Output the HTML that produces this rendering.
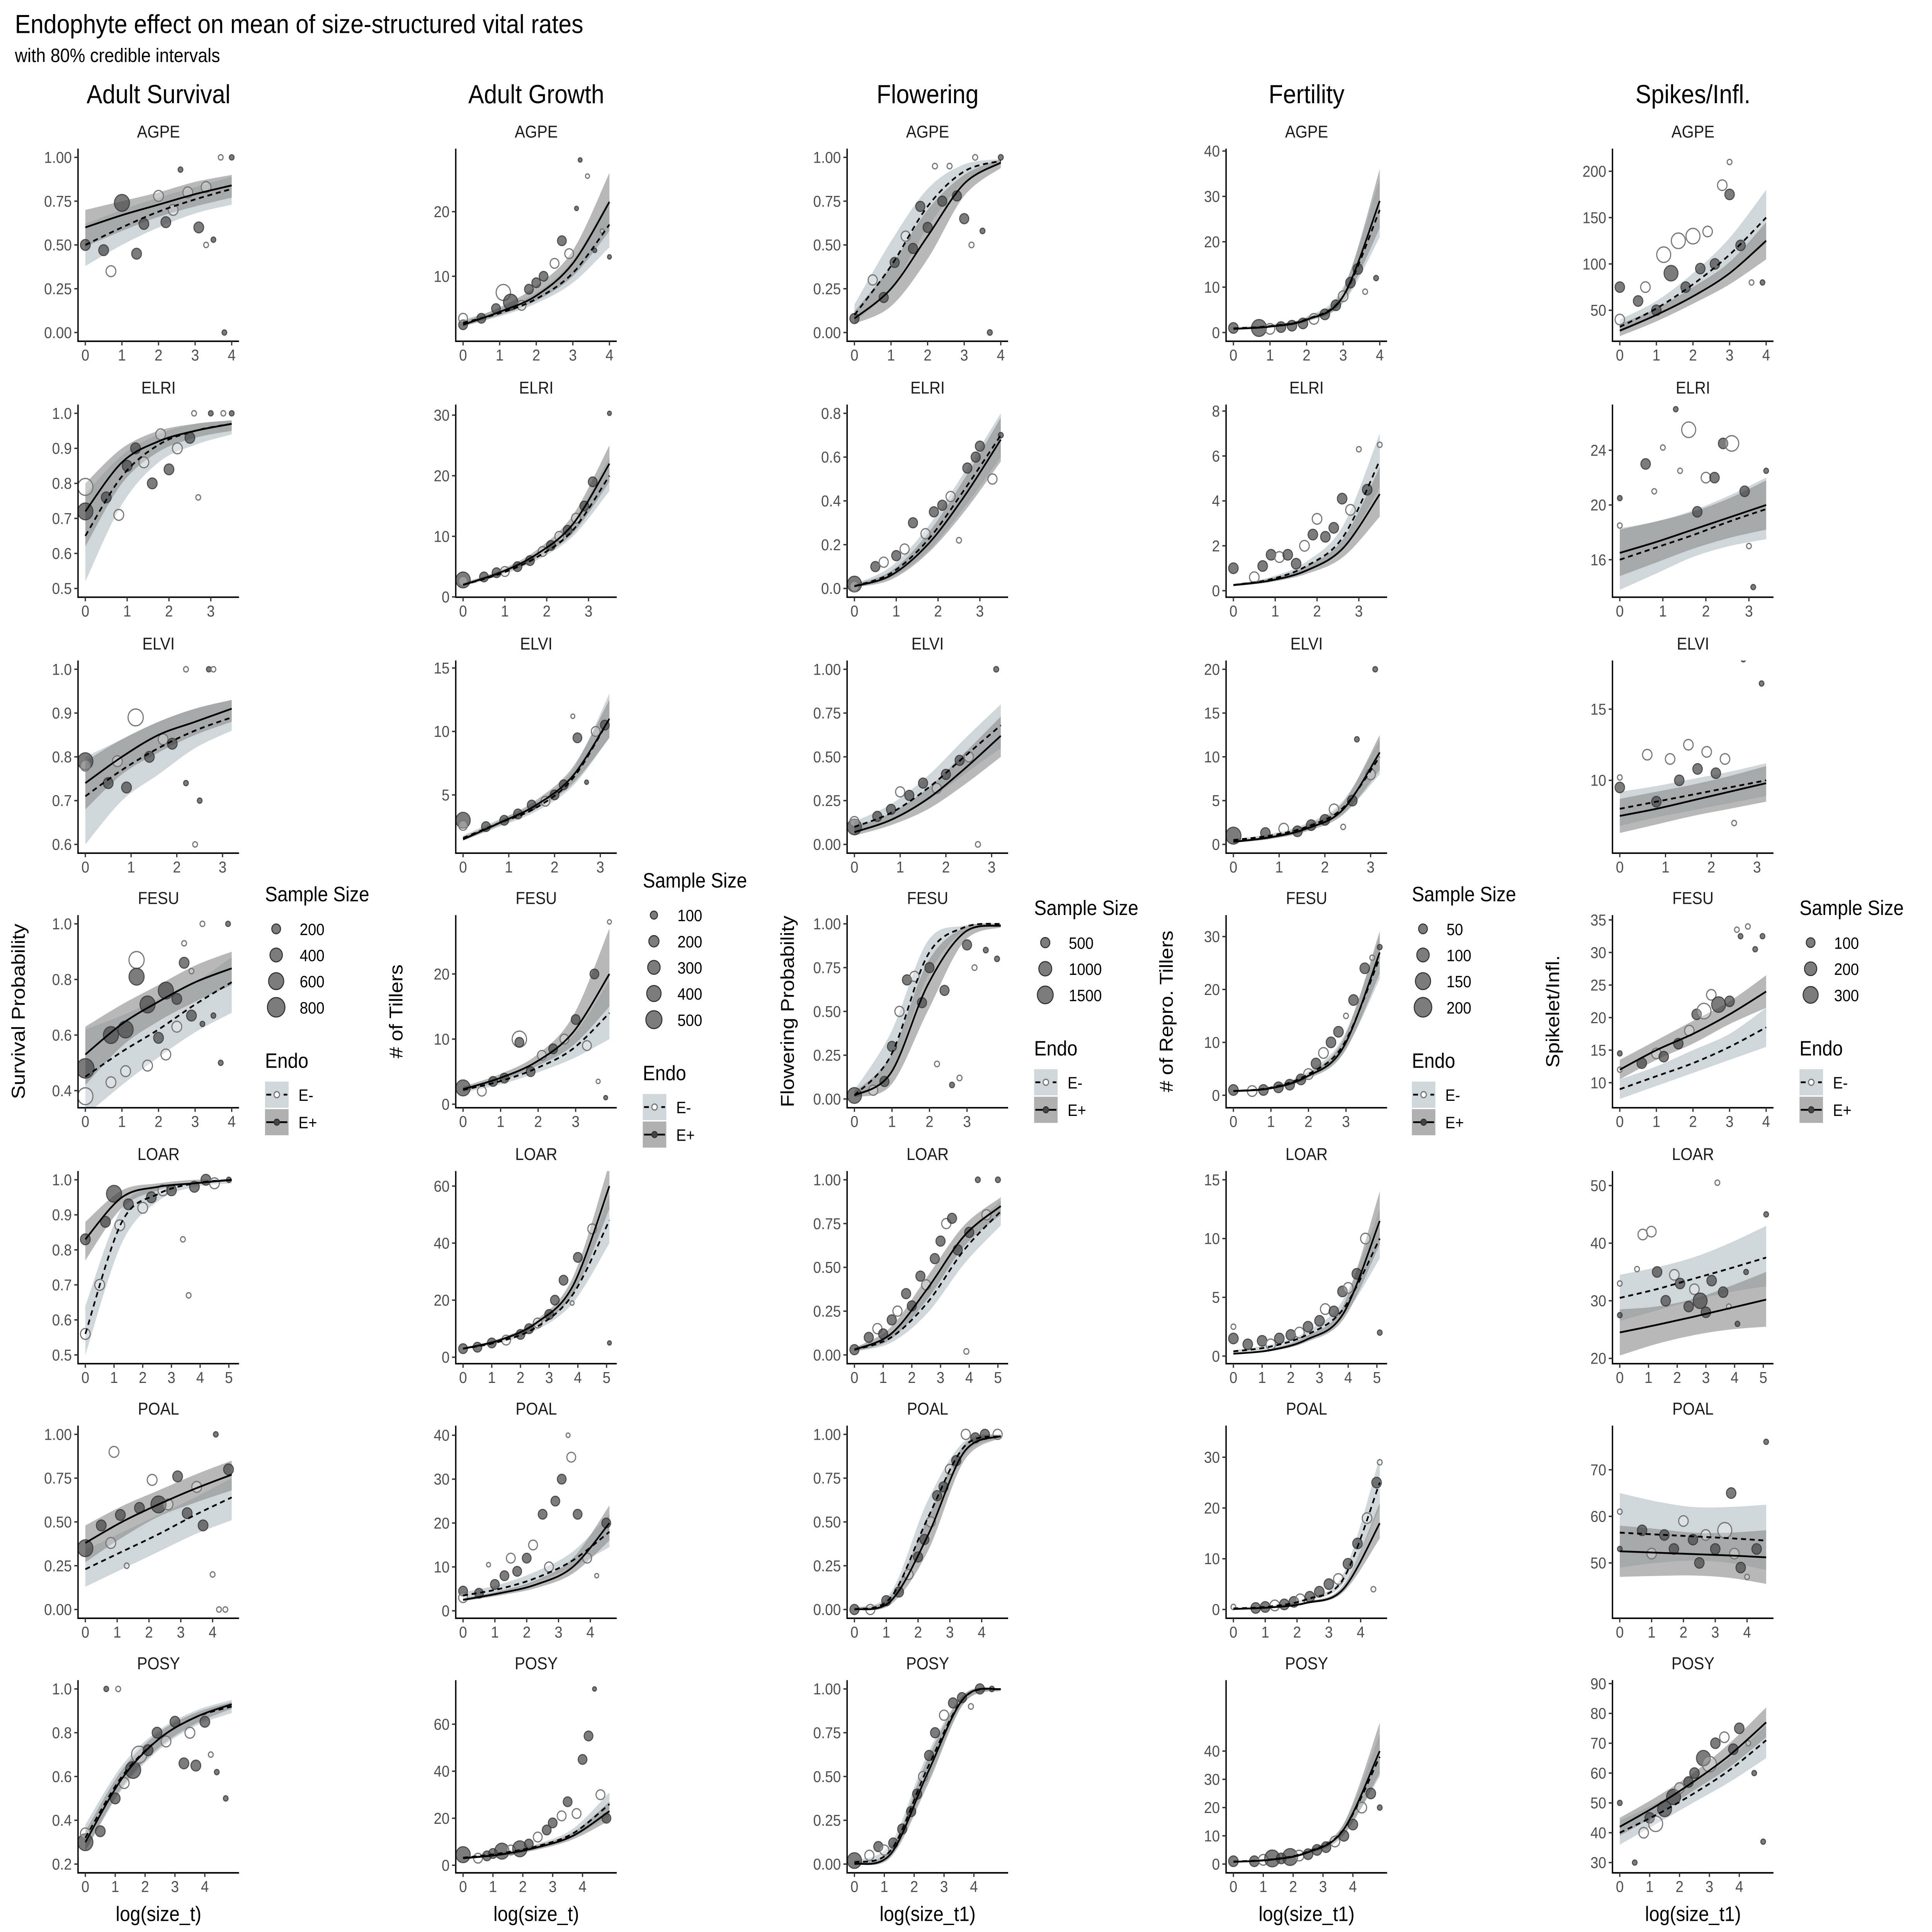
<!DOCTYPE html>
<html><head><meta charset="utf-8"><title>Endophyte effect on vital rates</title>
<style>
html,body{margin:0;padding:0;background:#fff;overflow:hidden;width:100vw;height:100vh;}
svg{display:block;width:100vw;height:100vh;}
text{font-family:"Liberation Sans",Arial,sans-serif;}
</style></head>
<body>
<svg id="chart" xmlns="http://www.w3.org/2000/svg" viewBox="0 0 1560 1404" preserveAspectRatio="none">
<rect x="0" y="0" width="1560" height="1404" fill="#fff"/>
<text x="12" y="24" font-size="19" fill="#000">Endophyte effect on mean of size-structured vital rates</text>
<text x="12" y="45" font-size="14" fill="#000">with 80% credible intervals</text>
<g id="plots"></g>
</svg>
<script>
const species = ["AGPE","ELRI","ELVI","FESU","LOAR","POAL","POSY"];
const columnTitles = ["Adult Survival","Adult Growth","Flowering","Fertility","Spikes/Infl."];
const yAxisTitles = ["Survival Probability","# of Tillers","Flowering Probability","# of Repro. Tillers","Spikelet/Infl."];
const xAxisTitles = ["log(size_t)","log(size_t)","log(size_t1)","log(size_t1)","log(size_t1)"];

// x maxima per column/row
const xMax = [
 [4,3.5,3.2,4,5.1,4.6,4.9],
 [4,3.5,3.2,3.9,5.1,4.6,4.9],
 [4,3.5,3.2,3.9,5.1,4.6,4.9],
 [4,3.5,3.2,3.9,5.1,4.6,4.9],
 [4,3.4,3.2,4,5.1,4.6,4.9]
];
// raw y data ranges per column/row
const yRange = [
 [[0,1],[0.5,1],[0.6,1],[0.37,1],[0.5,1],[0,1],[0.2,1]],
 [[1.3,28.4],[1.4,30.3],[1.1,14.9],[0.8,27.7],[0.8,62.2],[0.3,40.2],[0.5,75]],
 [[0,1],[0,0.8],[0,1],[0,1],[0,1],[0,1],[0,1]],
 [[0,38.6],[0.1,7.9],[0,20],[-0.7,32.4],[0.1,15],[0,34.5],[0,62]],
 [[26,215],[13.9,26.7],[5.5,17.8],[7.5,34.4],[20.6,51],[40,77.6],[29.5,88.2]]
];
// y tick values
const yTicks = [
 [[0,0.25,0.5,0.75,1],[0.5,0.6,0.7,0.8,0.9,1],[0.6,0.7,0.8,0.9,1],[0.4,0.6,0.8,1],[0.5,0.6,0.7,0.8,0.9,1],[0,0.25,0.5,0.75,1],[0.2,0.4,0.6,0.8,1]],
 [[10,20],[0,10,20,30],[5,10,15],[0,10,20],[0,20,40,60],[0,10,20,30,40],[0,20,40,60]],
 [[0,0.25,0.5,0.75,1],[0,0.2,0.4,0.6,0.8],[0,0.25,0.5,0.75,1],[0,0.25,0.5,0.75,1],[0,0.25,0.5,0.75,1],[0,0.25,0.5,0.75,1],[0,0.25,0.5,0.75,1]],
 [[0,10,20,30,40],[0,2,4,6,8],[0,5,10,15,20],[0,10,20,30],[0,5,10,15],[0,10,20,30],[0,10,20,30,40]],
 [[50,100,150,200],[16,20,24],[10,15],[10,15,20,25,30,35],[20,30,40,50],[50,60,70],[30,40,50,60,70,80,90]]
];
// y tick labels
const yTickLabels = [
 [["0.00","0.25","0.50","0.75","1.00"],["0.5","0.6","0.7","0.8","0.9","1.0"],["0.6","0.7","0.8","0.9","1.0"],["0.4","0.6","0.8","1.0"],["0.5","0.6","0.7","0.8","0.9","1.0"],["0.00","0.25","0.50","0.75","1.00"],["0.2","0.4","0.6","0.8","1.0"]],
 [["10","20"],["0","10","20","30"],["5","10","15"],["0","10","20"],["0","20","40","60"],["0","10","20","30","40"],["0","20","40","60"]],
 [["0.00","0.25","0.50","0.75","1.00"],["0.0","0.2","0.4","0.6","0.8"],["0.00","0.25","0.50","0.75","1.00"],["0.00","0.25","0.50","0.75","1.00"],["0.00","0.25","0.50","0.75","1.00"],["0.00","0.25","0.50","0.75","1.00"],["0.00","0.25","0.50","0.75","1.00"]],
 [["0","10","20","30","40"],["0","2","4","6","8"],["0","5","10","15","20"],["0","10","20","30"],["0","5","10","15"],["0","10","20","30"],["0","10","20","30","40"]],
 [["50","100","150","200"],["16","20","24"],["10","15"],["10","15","20","25","30","35"],["20","30","40","50"],["50","60","70"],["30","40","50","60","70","80","90"]]
];

// Fitted curves: values at x = 0, xmax/4, xmax/2, 3xmax/4, xmax
const epMean = [
 [[.60,.67,.73,.79,.84],[.72,.86,.92,.95,.97],[.74,.80,.85,.88,.91],[.53,.64,.72,.79,.84],[.83,.95,.98,.99,1.0],[.38,.50,.60,.69,.77],[.30,.59,.77,.87,.93]],
 [[2.5,4.5,7,12,21.5],[2,4,7,12,22],[1.5,2.8,4.2,6.5,11],[2.3,4,6.5,11,20],[3,6,12,25,60],[2.5,4,6,10,20],[3,4.5,7.5,12.5,23]],
 [[.08,.25,.55,.85,.97],[.01,.06,.2,.42,.68],[.07,.14,.26,.43,.62],[.02,.15,.65,.95,.99],[.03,.12,.38,.68,.85],[0,.05,.42,.9,.99],[0,.06,.52,.95,1]],
 [[.8,1.3,2.8,8,29],[.25,.45,.9,1.9,4.3],[.3,.8,1.8,4,10.5],[.8,1.3,3.5,9,27],[.2,.5,1.4,3.6,11.5],[.1,.4,1.3,4,17],[.8,1.5,4,12,40]],
 [[28,45,65,90,125],[16.5,17.3,18.2,19.1,20],[7.5,8,8.6,9.2,9.8],[12,15,17.5,20.5,24],[24.5,25.8,27.2,28.7,30.2],[52.5,52.2,51.9,51.6,51.2],[42,49,57,66,77]]
];
const epLow = [
 [[.49,.58,.66,.72,.77],[.62,.80,.89,.93,.95],[.68,.76,.81,.85,.88],[.42,.56,.65,.72,.78],[.77,.92,.97,.99,.995],[.27,.41,.53,.61,.68],[.26,.55,.73,.84,.91]],
 [[2.2,4,6.2,10,17],[1.8,3.7,6.4,10.5,19],[1.4,2.6,3.9,5.9,9.5],[2,3.5,5.8,9,15],[2.7,5.5,11,22,52],[2.2,3.5,5.2,8.5,16],[2.5,4,6.5,11,19]],
 [[.05,.15,.42,.78,.94],[.005,.04,.16,.35,.58],[.05,.11,.2,.34,.5],[.01,.08,.5,.9,.98],[.02,.09,.32,.62,.8],[0,.03,.33,.85,.98],[0,.04,.45,.92,.99]],
 [[.6,1.1,2.4,6.8,23],[.2,.38,.75,1.5,3.3],[.2,.6,1.5,3.4,8.5],[.6,1.1,3,7.8,23],[.15,.4,1.2,3.1,9.5],[.08,.3,1.1,3.4,14],[.6,1.2,3.5,10,32]],
 [[22,38,57,78,105],[14.8,15.8,16.8,17.6,18.2],[6.3,6.9,7.5,8,8.5],[10.5,13.5,16,19,21.5],[20.5,22.5,24,25,25.5],[47,47.2,47.3,46.8,45.5],[39,46,54,62,72]]
];
const epHigh = [
 [[.70,.75,.80,.86,.90],[.80,.90,.95,.97,.98],[.79,.84,.88,.91,.93],[.63,.71,.78,.85,.90],[.88,.97,.99,1,1],[.48,.59,.68,.77,.85],[.35,.63,.80,.89,.94]],
 [[3,5.2,8.5,14,26],[2.3,4.4,7.7,13.5,25],[1.7,3.0,4.6,7.2,12.5],[2.7,4.6,7.5,13.5,27],[3.3,6.6,13,28,68],[2.8,4.5,7,12,24],[3.5,5,8.5,14,27]],
 [[.12,.38,.70,.9,.99],[.02,.08,.25,.5,.78],[.1,.18,.32,.52,.73],[.04,.25,.78,.98,1],[.04,.16,.45,.74,.9],[.01,.08,.52,.94,1],[.01,.09,.6,.97,1]],
 [[1,1.6,3.3,9.5,36],[.3,.55,1.1,2.3,5.5],[.4,1,2.2,4.8,12.5],[1,1.5,4,10.5,31],[.25,.6,1.7,4.3,14],[.12,.5,1.6,4.8,21],[1,1.8,4.7,14,50]],
 [[35,52,75,102,145],[18.2,18.8,19.5,20.5,21.8],[8.7,9.2,9.7,10.3,11],[13.5,16.5,19.5,22.5,26.5],[28.5,29,30.3,32.5,35],[58,57.3,56.5,56.5,57],[45,52,60,70,82]]
];
const emMean = [
 [[.50,.60,.69,.76,.82],[.65,.82,.91,.95,.97],[.71,.77,.82,.86,.89],[.45,.54,.62,.71,.79],[.56,.88,.96,.99,1.0],[.23,.33,.43,.54,.64],[.32,.60,.77,.87,.92]],
 [[2.8,4.3,6.5,10.5,18],[2,3.8,6.5,11,20],[1.6,2.8,4,6.3,11],[2.2,3.5,5.5,8.5,14],[3,5.5,10.5,22,48],[3.5,5,7.5,11.5,18],[3.2,5,8,13.5,26]],
 [[.10,.38,.72,.92,.98],[.01,.07,.22,.45,.7],[.1,.18,.32,.5,.68],[.02,.25,.82,.98,1],[.03,.1,.3,.6,.82],[0,.07,.52,.93,.99],[.01,.08,.55,.95,1]],
 [[.9,1.4,2.9,8,27],[.25,.5,1.1,2.4,5.8],[.5,1,2,4.2,10],[.8,1.4,3.8,9.5,26],[.4,.8,1.8,4,10],[.2,.6,2,6,25],[.9,1.6,4.2,12,38]],
 [[32,52,78,110,150],[16,16.9,17.8,18.8,19.7],[8,8.5,9,9.5,10],[9,11,13,15.5,18.5],[30.5,32,33.8,35.6,37.5],[56.5,56.1,55.7,55.3,54.8],[40,46,53,61,71]]
];
const emLow = [
 [[.38,.50,.60,.68,.73],[.52,.74,.86,.91,.94],[.60,.70,.76,.82,.86],[.31,.42,.52,.61,.68],[.5,.82,.94,.98,.99],[.13,.23,.33,.43,.51],[.26,.54,.72,.83,.89]],
 [[2.4,3.8,5.8,9,14.5],[1.8,3.5,6,10,17.5],[1.4,2.5,3.7,5.7,9.5],[1.8,3,4.8,7,10],[2.6,5,9.5,19,40],[2.8,4.2,6.5,10,14.5],[2.8,4.5,7,12,21]],
 [[.06,.25,.6,.86,.96],[.005,.05,.17,.37,.6],[.07,.14,.25,.4,.55],[.01,.15,.7,.96,.99],[.02,.07,.24,.52,.74],[0,.04,.42,.88,.98],[0,.05,.47,.92,.99]],
 [[.6,1.1,2.4,6.5,21],[.2,.4,.9,1.9,4.6],[.4,.8,1.7,3.5,8],[.6,1.2,3.2,8,22],[.3,.6,1.5,3.4,8.3],[.15,.5,1.7,5.1,20],[.7,1.3,3.6,10.5,31]],
 [[26,44,66,92,122],[13.8,15,16.2,17,17.5],[6.8,7.4,7.9,8.4,8.9],[7.5,9.5,11.5,13.5,15.5],[26.5,28.3,30,31.5,32.5],[49,50,50.5,50,48.5],[36,43,50,57,65]]
];
const emHigh = [
 [[.62,.70,.77,.83,.89],[.77,.88,.94,.97,.98],[.80,.84,.88,.91,.93],[.62,.67,.73,.79,.88],[.64,.92,.98,.99,1],[.34,.44,.54,.64,.75],[.38,.65,.81,.90,.95]],
 [[3.3,5,7.5,12.5,22],[2.3,4.2,7,12.5,23],[1.8,3.1,4.4,7,13],[2.6,4,6.5,10.5,19],[3.4,6,11.5,25,57],[4.2,6,9,13.5,22],[3.6,5.5,9,15.5,31]],
 [[.16,.52,.82,.96,.99],[.02,.1,.28,.53,.8],[.13,.23,.39,.6,.8],[.05,.38,.9,.99,1],[.04,.13,.37,.68,.88],[.01,.1,.62,.96,1],[.02,.12,.63,.97,1]],
 [[1.2,1.8,3.5,10,34],[.3,.6,1.3,2.9,7],[.6,1.2,2.4,5,12],[1,1.7,4.4,11,30],[.5,1,2.1,4.8,12.5],[.25,.7,2.3,7,30],[1.1,1.9,4.8,14,46]],
 [[40,60,90,128,180],[18.3,18.8,19.6,20.7,22],[9.2,9.6,10.1,10.6,11.2],[10.5,12.5,15,17.5,21.5],[34.5,35.8,37.5,40,43],[65,63.2,62,62,62.5],[44,50,57,65,76]]
];

// Observed points: [x, y, endo (0=E-,1=E+), size class (1 small, 2 medium, 3 large)]
const pointsSurv = [
 [[0,.5,1,2],[0.5,.47,1,2],[0.7,.35,0,2],[1.0,.74,1,3],[1.4,.45,1,2],[1.6,.62,1,2],[2,.78,0,2],[2.2,.63,1,2],[2.4,.7,0,2],[2.6,.93,1,1],[2.8,.8,0,2],[3.1,.6,1,2],[3.3,.5,0,1],[3.5,.53,1,1],[3.7,1.0,0,1],[3.8,0,1,1],[4,1,1,1],[3.3,.83,0,2]],
 [[0,.79,0,3],[0,.72,1,3],[0.5,.76,1,2],[0.8,.71,0,2],[1,.85,1,2],[1.2,.9,1,2],[1.4,.86,0,2],[1.6,.8,1,2],[1.8,.94,0,2],[2,.84,1,2],[2.2,.9,0,2],[2.5,.93,1,2],[2.7,.76,0,1],[2.6,1,0,1],[3,1,1,1],[3.3,1,0,1],[3.5,1,1,1]],
 [[0,.79,1,3],[0,.78,0,2],[0.5,.74,1,2],[0.7,.79,0,2],[0.9,.73,1,2],[1.1,.89,0,3],[1.4,.8,1,2],[1.7,.84,0,2],[1.9,.83,1,2],[2.2,1,0,1],[2.2,.74,1,1],[2.4,.6,0,1],[2.5,.7,1,1],[2.7,1,1,1],[2.8,1,0,1]],
 [[0,.48,1,4],[0,.38,0,3],[0.7,.43,0,2],[0.7,.6,1,3],[1.1,.47,0,2],[1.1,.62,1,3],[1.4,.87,0,3],[1.4,.81,1,3],[1.7,.71,1,3],[1.7,.49,0,2],[2,.59,1,2],[2.2,.53,0,2],[2.2,.76,1,3],[2.5,.73,1,2],[2.5,.63,0,2],[2.7,.86,1,2],[2.7,.93,0,1],[2.9,.83,0,1],[2.9,.67,1,2],[3.2,.64,1,1],[3.2,1,0,1],[3.5,.67,1,1],[3.7,.5,1,1],[3.9,1,1,1]],
 [[0,.83,1,2],[0,.56,0,2],[0.5,.7,0,2],[0.7,.88,1,2],[1,.96,1,3],[1.2,.87,0,2],[1.5,.93,1,2],[2,.92,0,2],[2.3,.95,1,2],[2.7,.97,0,2],[3,.97,1,2],[3.4,.83,0,1],[3.6,.67,0,1],[3.8,.98,1,2],[4.2,1,1,2],[4.5,.99,0,2],[5,1,1,1]],
 [[0,.35,1,3],[0.5,.48,1,2],[0.8,.38,0,2],[0.9,.9,0,2],[1.1,.54,1,2],[1.3,.25,0,1],[1.7,.58,1,2],[2.1,.74,0,2],[2.3,.6,1,3],[2.6,.6,0,2],[2.9,.76,1,2],[3.2,.55,1,2],[3.5,.7,0,2],[3.7,.48,1,2],[4,.2,0,1],[4.1,1,1,1],[4.2,0,0,1],[4.4,0,0,1],[4.5,.8,1,2]],
 [[0,.3,1,3],[0,.34,0,2],[0.5,.35,1,2],[0.7,1,1,1],[1,.5,1,2],[1.1,1,0,1],[1.3,.57,0,2],[1.6,.63,1,3],[1.8,.7,0,3],[2.1,.72,1,2],[2.4,.8,1,2],[2.7,.76,0,2],[3,.85,1,2],[3.3,.66,1,2],[3.5,.8,0,2],[3.7,.65,1,2],[4,.85,1,2],[4.2,.7,0,1],[4.4,.62,1,1],[4.7,.5,1,1]]
];
const pointsGrow = [
 [[0,2.5,1,2],[0,3.5,0,2],[0.5,3.5,1,2],[0.9,5,1,2],[1.1,7.5,0,3],[1.3,6,1,3],[1.6,5.5,0,2],[1.8,8,1,2],[2,9,1,2],[2.2,10,1,2],[2.5,12,0,2],[2.7,15.5,1,2],[2.9,13.5,0,2],[3.1,20.5,1,1],[3.2,28,1,1],[3.4,25.5,0,1],[3.6,14,1,1],[3.8,17,0,1],[4,13,1,1]],
 [[0,2.8,1,3],[0,2.6,0,2],[0.5,3.3,1,2],[0.8,4,1,2],[1,4.2,0,2],[1.3,5,1,2],[1.6,6,1,2],[1.9,7.5,0,2],[2.1,8.5,1,2],[2.3,10,0,2],[2.5,11,1,2],[2.7,13,0,2],[2.9,15,1,2],[3.1,19,1,2],[3.5,30.3,1,1]],
 [[0,3,1,3],[0,2.6,0,2],[0.5,2.5,1,2],[0.9,3,1,2],[1.2,3.5,1,2],[1.5,4.2,1,2],[1.8,4.5,0,2],[2.0,5,1,2],[2.2,5.8,1,2],[2.4,11.2,0,1],[2.5,9.5,1,2],[2.7,6,1,1],[2.9,10,0,2],[3.1,10.5,1,2]],
 [[0,2.5,1,3],[0.5,2,0,2],[0.8,3.5,1,2],[1.1,4,1,2],[1.5,10,0,3],[1.5,9.5,1,2],[1.8,5,1,2],[2.1,7.5,0,2],[2.4,8.5,1,2],[2.7,10,0,2],[3,13,1,2],[3.3,9,0,2],[3.5,20,1,2],[3.6,3.5,0,1],[3.8,1,1,1],[3.9,28,0,1]],
 [[0,3,1,2],[0.5,3.5,1,2],[1,5,1,2],[1.5,6,0,2],[2,8,1,2],[2.3,10,1,2],[2.6,12,0,2],[3,15,1,2],[3.2,20,1,2],[3.5,27,1,2],[3.8,19,0,1],[4,35,1,2],[4.2,67,1,1],[4.5,45,0,2],[5.1,5,1,1]],
 [[0,4.5,1,2],[0,3,0,2],[0.5,4,1,2],[0.8,10.5,0,1],[1,6,1,2],[1.3,8,1,2],[1.5,12,0,2],[1.7,9,1,2],[2,12,1,2],[2.2,15,0,2],[2.5,22,1,2],[2.7,10,0,2],[2.9,25,1,2],[3.1,30,1,2],[3.3,40,0,1],[3.4,35,0,2],[3.6,22,1,2],[3.9,12,0,2],[4.2,8,0,1],[4.5,20,1,2]],
 [[0,4.5,1,3],[0.5,3,0,2],[0.8,4,1,2],[1,5,1,2],[1.3,6,1,3],[1.6,6.5,0,2],[1.9,7,1,3],[2.2,9,1,2],[2.5,12,0,2],[2.8,15,1,2],[3,18,1,2],[3.3,21,0,2],[3.5,27,1,2],[3.8,22,0,2],[4,45,1,2],[4.2,55,1,2],[4.4,75,1,1],[4.6,30,0,2],[4.8,20,1,2]]
];
const pointsFlow = [
 [[0,.08,1,2],[0.5,.3,0,2],[0.8,.2,1,2],[1.1,.4,1,2],[1.4,.55,0,2],[1.6,.48,1,2],[1.8,.72,1,2],[2,.6,1,2],[2.2,.95,0,1],[2.4,.75,1,2],[2.6,.95,0,1],[2.8,.78,1,2],[3,.65,1,2],[3.2,.5,0,1],[3.3,1,0,1],[3.5,.58,1,1],[3.7,0,1,1],[4,1,1,1]],
 [[0,.02,1,3],[0,.01,0,2],[0.5,.1,1,2],[0.7,.12,0,2],[1,.15,1,2],[1.2,.18,0,2],[1.4,.3,1,2],[1.7,.25,0,2],[1.9,.35,1,2],[2.1,.38,1,2],[2.3,.42,0,2],[2.5,.22,0,1],[2.7,.55,1,2],[2.9,.6,1,2],[3,.65,1,2],[3.3,.5,0,2],[3.5,.7,1,1]],
 [[0,.1,1,3],[0,.13,0,2],[0.5,.16,1,2],[0.8,.2,1,2],[1,.3,0,2],[1.2,.28,1,2],[1.5,.35,1,2],[1.8,.32,0,2],[2,.4,1,2],[2.3,.48,1,2],[2.5,.5,0,2],[2.7,0,0,1],[3.1,1,1,1]],
 [[0,.02,1,3],[0.5,.05,0,2],[0.8,.1,1,2],[1,.3,1,2],[1.2,.5,0,2],[1.4,.68,1,2],[1.6,.7,0,2],[1.8,.55,1,2],[2,.75,1,2],[2.2,.2,0,1],[2.4,.62,1,2],[2.6,.08,1,1],[2.8,.12,0,1],[3,.88,1,2],[3.2,.75,0,1],[3.5,.85,1,1],[3.8,.8,1,1]],
 [[0,.03,1,2],[0.5,.1,1,2],[0.8,.15,0,2],[1,.12,1,2],[1.3,.2,1,2],[1.5,.25,0,2],[1.8,.35,1,2],[2,.28,1,2],[2.3,.45,1,2],[2.5,.4,0,2],[2.8,.55,1,2],[3,.65,1,2],[3.2,.75,0,2],[3.4,.78,1,2],[3.6,.6,1,2],[3.9,.02,0,1],[4,.7,1,2],[4.3,1,1,1],[4.6,.8,0,2],[5,1,1,1]],
 [[0,0,1,2],[0.5,0,0,2],[1,.05,1,2],[1.4,.1,1,2],[1.7,.2,0,2],[2,.3,1,2],[2.2,.4,1,2],[2.4,.5,0,2],[2.6,.65,1,2],[2.8,.7,1,2],[3,.8,0,2],[3.2,.85,1,2],[3.5,1,0,2],[3.8,.98,1,2],[4.1,1,1,2],[4.5,1,0,2]],
 [[0,.02,1,3],[0.5,.05,0,2],[0.8,.1,1,2],[1,.08,0,2],[1.3,.12,1,2],[1.6,.2,1,2],[1.9,.3,1,2],[2.1,.4,1,2],[2.3,.5,0,2],[2.5,.62,1,2],[2.7,.75,1,2],[3,.85,0,2],[3.3,.92,1,2],[3.6,.95,1,2],[3.9,.9,0,1],[4.2,1,1,2],[4.6,1,1,1]]
];
const pointsFert = [
 [[0,1,1,2],[0.7,1,1,3],[1,.8,0,2],[1.3,1.2,1,2],[1.6,1.5,1,2],[1.9,2,1,2],[2.2,3,0,2],[2.5,4,1,2],[2.8,6,1,2],[3,8,0,2],[3.2,11,1,2],[3.4,14,1,2],[3.6,9,0,1],[3.9,12,1,1]],
 [[0,1,1,2],[0.5,.6,0,2],[0.7,1.1,1,2],[0.9,1.6,1,2],[1.1,1.5,0,2],[1.3,1.6,1,2],[1.5,1.2,1,2],[1.7,2,0,2],[1.9,2.5,1,2],[2.0,3.2,0,2],[2.2,2.4,1,2],[2.4,2.8,1,2],[2.6,4.1,1,2],[2.8,3.6,0,2],[3,6.3,0,1],[3.2,4.5,1,2],[3.5,6.5,0,1]],
 [[0,1,1,3],[0.7,1.3,1,2],[1.1,1.8,0,2],[1.4,1.5,1,2],[1.7,2.2,1,2],[2,2.8,1,2],[2.2,4,0,2],[2.4,2,0,1],[2.6,5,1,2],[2.7,12,1,1],[3,8,0,2],[3.1,20,1,1]],
 [[0,1,1,2],[0.5,.8,0,2],[0.8,1,1,2],[1.2,1.5,1,2],[1.5,2,1,2],[1.8,3,1,2],[2,4,0,2],[2.2,6,1,2],[2.4,8,0,2],[2.6,10,1,2],[2.8,12,1,2],[3,15,0,1],[3.2,18,1,2],[3.5,24,1,2],[3.7,26,0,1],[3.9,28,1,1]],
 [[0,1.5,1,2],[0,2.5,0,1],[0.5,1,1,2],[1,1.3,1,2],[1.3,1,0,2],[1.6,1.5,1,2],[2,1.8,1,2],[2.3,2,0,2],[2.6,2.5,1,2],[3,3,1,2],[3.2,4,0,2],[3.5,3.8,1,2],[3.8,5.5,1,2],[4,5.8,0,2],[4.3,7,1,2],[4.6,10,0,2],[5.1,2,1,1]],
 [[0,.5,0,1],[0.7,.3,1,2],[1,.5,1,2],[1.3,.8,0,2],[1.6,1,1,2],[1.9,1.5,1,2],[2.1,2,0,2],[2.4,2.5,1,2],[2.7,3.5,1,2],[3,5,1,2],[3.3,6,0,2],[3.6,9,1,2],[3.9,13,1,2],[4.2,18,0,2],[4.4,4,0,1],[4.5,25,1,2],[4.6,29,0,1]],
 [[0,1,1,2],[0.7,1,1,2],[1,1.5,0,2],[1.3,2,1,3],[1.6,2,1,2],[1.9,2.5,1,3],[2.2,3,0,2],[2.5,3.5,1,2],[2.8,5,1,2],[3.1,6,1,2],[3.4,8,0,2],[3.7,10,1,2],[4,14,1,2],[4.3,20,0,2],[4.6,25,1,2],[4.9,20,1,1]]
];
const pointsSpike = [
 [[0,75,1,2],[0,40,0,2],[0.5,60,1,2],[0.7,75,0,2],[1,50,1,2],[1.2,110,0,3],[1.4,90,1,3],[1.6,125,0,3],[1.8,75,1,2],[2,130,0,3],[2.2,95,1,2],[2.4,135,0,2],[2.6,100,1,2],[2.8,185,0,2],[3,210,0,1],[3,175,1,2],[3.3,120,1,2],[3.6,80,0,1],[3.9,80,1,1]],
 [[0,20.5,1,1],[0,18.5,0,1],[0.6,23,1,2],[0.8,21,0,1],[1,24.2,0,1],[1.3,27,1,1],[1.4,22.5,0,1],[1.6,25.5,0,3],[1.8,19.5,1,2],[2,22,0,2],[2.2,22,1,2],[2.4,24.5,1,2],[2.6,24.5,0,3],[2.9,21,1,2],[3,17,0,1],[3.1,14,1,1],[3.4,22.5,1,1]],
 [[0,9.5,1,2],[0,10.2,0,1],[0.6,11.8,0,2],[0.8,8.5,1,2],[1.1,11.5,0,2],[1.3,10,1,2],[1.5,12.5,0,2],[1.7,10.8,1,2],[1.9,12,0,2],[2.1,10.5,1,2],[2.3,11.5,0,2],[2.5,7,0,1],[2.7,18.5,1,1],[3.1,16.8,1,1]],
 [[0,14.5,1,1],[0,12,0,1],[0.6,13,1,2],[1,14.5,0,2],[1.2,14,1,2],[1.6,16,1,2],[1.9,18,0,2],[2.1,20.5,1,2],[2.3,21,0,3],[2.5,23.5,0,2],[2.7,22,1,3],[3,22.5,1,2],[3.2,33.5,0,1],[3.3,32.5,1,1],[3.5,34,0,1],[3.7,30.5,1,1],[3.9,32.5,1,1]],
 [[0,27.5,1,1],[0,33,0,1],[0.6,35.5,0,1],[0.8,41.5,0,2],[1.1,42,0,2],[1.3,35,1,2],[1.6,30,1,2],[1.9,34.5,0,2],[2.1,33,1,2],[2.4,29,1,2],[2.6,32,0,2],[2.8,30,1,3],[3,28,1,2],[3.2,33.5,1,2],[3.4,50.5,0,1],[3.6,31.5,1,2],[3.8,29,0,1],[4.1,26,1,1],[4.4,35,1,1],[5.1,45,1,1]],
 [[0,61,0,1],[0,53,1,1],[0.7,57,1,2],[1,52,0,2],[1.4,56,1,2],[1.7,53,1,2],[2,59,0,2],[2.3,55,1,2],[2.5,50,1,2],[2.7,56,0,2],[3,53,1,2],[3.3,57,0,3],[3.5,65,1,2],[3.6,52,0,2],[3.8,49,1,2],[4,47,0,1],[4.3,53,1,2],[4.6,76,1,1]],
 [[0,50,1,1],[0.5,30,1,1],[0.8,40,0,2],[1,45,1,2],[1.2,43,0,3],[1.5,48,1,3],[1.8,52,1,3],[2,55,0,2],[2.3,57,1,2],[2.5,60,1,2],[2.8,65,1,3],[3,63,0,3],[3.2,70,1,2],[3.5,72,0,2],[3.8,68,1,2],[4,75,1,2],[4.3,70,0,1],[4.5,60,1,1],[4.8,37,1,1]]
];
const pointSets = [pointsSurv, pointsGrow, pointsFlow, pointsFert, pointsSpike];

// Legend sample-size values per column
const legendSizes = [[200,400,600,800],[100,200,300,400,500],[500,1000,1500],[50,100,150,200],[100,200,300]];
// Sample size represented by size classes per column
const sizeClassN = [[60,250,600,800],[30,150,400,500],[150,500,1200,1500],[15,60,150,200],[30,120,260,300]];
</script>
<script>
(function(){
const NS = "http://www.w3.org/2000/svg";
const root = document.getElementById('plots');
const colLeft = [63,368,684,990,1302];
const plotW = 130, plotH = 140;
const rowTop = [108,294,480,665,851,1036,1221];
const rScale = [0.25,0.29,0.165,0.5,0.35];
const EM_BAND = "#cfd7db", EP_BAND = "#8c8c8c";
const legendX = [214,519,835,1140,1453];
const legendY = [650,640,660,650,660];

function mk(tag, attrs, parent){
  const e = document.createElementNS(NS, tag);
  for (const k in attrs) e.setAttribute(k, attrs[k]);
  (parent||root).appendChild(e);
  return e;
}
function smooth(pts){
  let d = "M" + pts[0][0].toFixed(2) + "," + pts[0][1].toFixed(2);
  const n = pts.length;
  for (let i=0;i<n-1;i++){
    const p0 = pts[Math.max(i-1,0)], p1 = pts[i], p2 = pts[i+1], p3 = pts[Math.min(i+2,n-1)];
    const c1 = [p1[0]+(p2[0]-p0[0])/6, p1[1]+(p2[1]-p0[1])/6];
    const c2 = [p2[0]-(p3[0]-p1[0])/6, p2[1]-(p3[1]-p1[1])/6];
    d += " C"+c1[0].toFixed(2)+","+c1[1].toFixed(2)+" "+c2[0].toFixed(2)+","+c2[1].toFixed(2)+" "+p2[0].toFixed(2)+","+p2[1].toFixed(2);
  }
  return d;
}

for (let c=0;c<5;c++){
  const ct = mk('text',{x:colLeft[c]+plotW/2, y:75, 'font-size':19, 'text-anchor':'middle', fill:'#000'});
  
  
  ct.textContent = columnTitles[c];
  const yx = colLeft[c]-43, yy = rowTop[3]+plotH/2;
  const yt = mk('text',{x:yx, y:yy, 'font-size':15, 'text-anchor':'middle', transform:'rotate(-90 '+yx+' '+yy+')', fill:'#000'});
  
  
  yt.textContent = yAxisTitles[c];
  const xt = mk('text',{x:colLeft[c]+plotW/2, y:1396, 'font-size':15, 'text-anchor':'middle', fill:'#000'});
  
  
  xt.textContent = xAxisTitles[c];

  for (let r=0;r<7;r++){
    const L = colLeft[c], T = rowTop[r];
    const g = mk('g',{});
    
    
    const xm = xMax[c][r];
    const x0 = -0.05*xm, x1 = xm*1.05;
    const [ya, yb] = yRange[c][r];
    const y0 = ya-0.05*(yb-ya), y1 = yb+0.05*(yb-ya);
    const sx = v => L + (v-x0)/(x1-x0)*plotW;
    const sy = v => T + plotH - (v-y0)/(y1-y0)*plotH;
    const clipId = 'clip'+c+'_'+r;
    const cp = mk('clipPath',{id:clipId}, g);
    mk('rect',{x:L, y:T, width:plotW, height:plotH}, cp);
    const inner = mk('g',{'clip-path':'url(#'+clipId+')'}, g);
    const xs = [0,1,2,3,4].map(i=>xm*i/4);

    function band(lo, hi, fill, op, name){
      const up = xs.map((x,i)=>[sx(x), sy(hi[i])]);
      const dn = xs.map((x,i)=>[sx(x), sy(lo[i])]).reverse();
      const d = smooth(up) + " L" + smooth(dn).slice(1) + " Z";
      const p = mk('path',{d:d, fill:fill, 'fill-opacity':op, stroke:'none'}, inner);
      
      
    }
    band(emLow[c][r], emHigh[c][r], EM_BAND, 1, 'band-e-minus');
    band(epLow[c][r], epHigh[c][r], EP_BAND, 0.62, 'band-e-plus');

    const pts = pointSets[c][r];
    for (const p of pts){
      const n = sizeClassN[c][p[3]-1];
      const rad = rScale[c]*Math.sqrt(n);
      const circ = p[2]===1
        ? mk('circle',{cx:sx(p[0]), cy:sy(p[1]), r:rad, fill:'#444', 'fill-opacity':0.7, stroke:'#333', 'stroke-opacity':0.8, 'stroke-width':0.8}, inner)
        : mk('circle',{cx:sx(p[0]), cy:sy(p[1]), r:rad, fill:'#fff', 'fill-opacity':0.25, stroke:'#777', 'stroke-width':0.9}, inner);
      
      
    }
    const lm = mk('path',{d:smooth(xs.map((x,i)=>[sx(x), sy(emMean[c][r][i])])), fill:'none', stroke:'#000', 'stroke-width':1.3, 'stroke-dasharray':'4,3'}, inner);
    
    
    const lp = mk('path',{d:smooth(xs.map((x,i)=>[sx(x), sy(epMean[c][r][i])])), fill:'none', stroke:'#000', 'stroke-width':1.3}, inner);
    
    

    const ax = mk('path',{d:'M'+L+','+T+' L'+L+','+(T+plotH)+' L'+(L+plotW)+','+(T+plotH), fill:'none', stroke:'#000', 'stroke-width':1.1}, g);
    
    
    for (let k=0;k<=Math.floor(xm);k++){
      const X = sx(k);
      mk('line',{x1:X, x2:X, y1:T+plotH, y2:T+plotH+3, stroke:'#333', 'stroke-width':1}, g);
      const tl = mk('text',{x:X, y:T+plotH+14, 'font-size':11.5, 'text-anchor':'middle', fill:'#4d4d4d'}, g);
      
      
      tl.textContent = String(k);
    }
    const yt2 = yTicks[c][r], yl2 = yTickLabels[c][r];
    for (let k=0;k<yt2.length;k++){
      const Y = sy(yt2[k]);
      mk('line',{x1:L-3, x2:L, y1:Y, y2:Y, stroke:'#333', 'stroke-width':1}, g);
      const tl = mk('text',{x:L-5, y:Y+4, 'font-size':11.5, 'text-anchor':'end', fill:'#4d4d4d'}, g);
      
      
      tl.textContent = yl2[k];
    }
    const st = mk('text',{x:L+plotW/2, y:T-8, 'font-size':12.5, 'text-anchor':'middle', fill:'#1a1a1a'}, g);
    
    
    st.textContent = species[r];
  }

  const lg = mk('g',{});
  
  
  const LX = legendX[c]; let LY = legendY[c];
  const lt = mk('text',{x:LX, y:LY+5, 'font-size':15, fill:'#000'}, lg);
  
  
  lt.textContent = 'Sample Size';
  let cy = LY + 25;
  for (const n of legendSizes[c]){
    const rad = rScale[c]*Math.sqrt(n);
    const ci = mk('circle',{cx:LX+9, cy:cy, r:rad, fill:'#444', 'fill-opacity':0.7, stroke:'#333', 'stroke-width':0.8}, lg);
    
    
    const tx = mk('text',{x:LX+28, y:cy+4.5, 'font-size':12, fill:'#000'}, lg);
    
    
    tx.textContent = String(n);
    cy += 19;
  }
  const ey = cy + 25;
  const et = mk('text',{x:LX, y:ey, 'font-size':15, fill:'#000'}, lg);
  
  
  et.textContent = 'Endo';
  const keys = [['E-',EM_BAND,1,'4,3',0],['E+','#b0b0b0',1,null,1]];
  for (let k=0;k<2;k++){
    const ky = ey + 10 + k*20;
    const kg = mk('g',{}, lg);
    
    
    mk('rect',{x:LX, y:ky, width:19, height:19, fill:keys[k][1]}, kg);
    const ln = mk('line',{x1:LX+1, x2:LX+18, y1:ky+9.5, y2:ky+9.5, stroke:'#000', 'stroke-width':1.3}, kg);
    if (keys[k][3]) ln.setAttribute('stroke-dasharray', keys[k][3]);
    if (k===0) mk('circle',{cx:LX+9.5, cy:ky+9.5, r:2.2, fill:'#fff', stroke:'#777', 'stroke-width':0.9}, kg);
    else mk('circle',{cx:LX+9.5, cy:ky+9.5, r:2.2, fill:'#444', stroke:'#333', 'stroke-width':0.8}, kg);
    const kt = mk('text',{x:LX+27, y:ky+14, 'font-size':12, fill:'#000'}, kg);
    kt.textContent = keys[k][0];
  }
}
})();
</script>
</body></html>
